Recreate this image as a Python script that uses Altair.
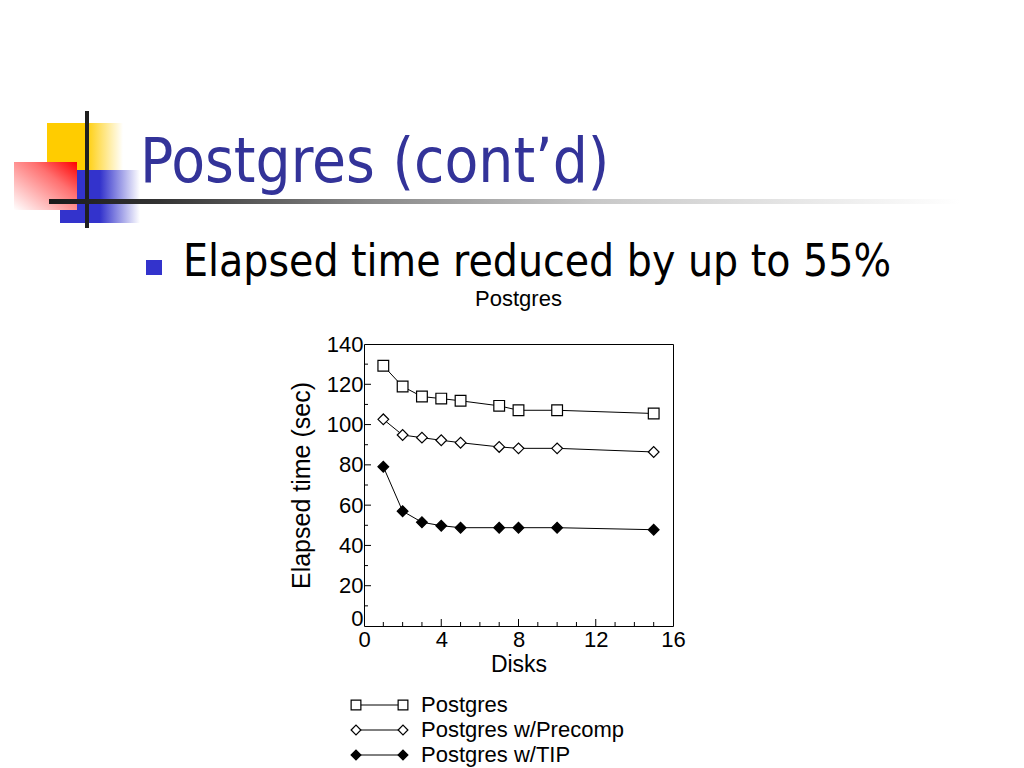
import altair as alt
import pandas as pd

# ---------------- data ----------------
disks = [1, 2, 3, 4, 5, 7, 8, 10, 15]
postgres = [129.2, 118.9, 113.9, 112.9, 111.8, 109.3, 107.1, 107.1, 105.5]
precomp = [102.6, 94.8, 93.5, 92.2, 91.0, 88.9, 88.2, 88.2, 86.4]
tip = [79.1, 57.0, 51.5, 49.8, 48.8, 48.8, 48.8, 48.8, 47.8]

series_names = ["Postgres", "Postgres w/Precomp", "Postgres w/TIP"]
series_shapes = ["square", "diamond", "diamond"]
series_fills = ["white", "white", "black"]

x_tick_labels = [0, 4, 8, 12, 16]
y_tick_labels = [0, 20, 40, 60, 80, 100, 120, 140]
x_minor_ticks = [1, 2, 3, 5, 6, 7, 9, 10, 11, 13, 14, 15]
x_major_ticks = [4, 8, 12]
y_minor_ticks = [10, 30, 50, 70, 90, 110, 130]
y_major_ticks = [20, 40, 60, 80, 100, 120]

slide_title = "Postgres (cont\u2019d)"
bullet_text = "Elapsed time reduced by up to 55%"
chart_title = "Postgres"
x_title = "Disks"
y_title = "Elapsed time (sec)"

# ---------------- tables ----------------
rows = []
for name, vals in zip(series_names, [postgres, precomp, tip]):
    for d, v in zip(disks, vals):
        rows.append({"disks": d, "time": v, "series": name})
df = pd.DataFrame(rows)
legend_df = pd.DataFrame({"series": series_names})

W, H = 309, 282
CHART_FONT = "Liberation Sans, Arial, sans-serif"
SLIDE_FONT = "DejaVu Sans Condensed, DejaVu Sans, sans-serif"

xs = alt.Scale(domain=[0, 16], nice=False, zero=False)
ys = alt.Scale(domain=[0, 140], nice=False, zero=False)

x_axis = alt.Axis(values=x_tick_labels, title=x_title, grid=False, domain=False, ticks=False,
                  labelFontSize=22, labelFont=CHART_FONT, labelColor="black", labelPadding=3,
                  titleFontSize=23, titleFont=CHART_FONT, titleFontWeight="normal",
                  titleColor="black", titlePadding=3, labelFlush=False)
y_axis = alt.Axis(values=y_tick_labels, title=y_title, grid=False, domain=False, ticks=False,
                  labelFontSize=22, labelFont=CHART_FONT, labelColor="black", labelPadding=1,
                  labelBaseline={"condition": {"test": "datum.value === 0", "value": "bottom"},
                                 "value": "middle"},
                  labelOffset={"condition": {"test": "datum.value === 0", "value": 4}, "value": 0},
                  titleFontSize=25, titleFont=CHART_FONT, titleFontWeight="normal",
                  titleColor="black", titlePadding=12, labelFlush=False)

x_enc = alt.X("disks:Q", scale=xs, axis=x_axis)
y_enc = alt.Y("time:Q", scale=ys, axis=y_axis)

shape_enc = alt.Shape("series:N", scale=alt.Scale(domain=series_names, range=series_shapes), legend=None)
fill_enc = alt.Fill("series:N", scale=alt.Scale(domain=series_names, range=series_fills), legend=None)

lines = alt.Chart(df).mark_line(color="black", strokeWidth=1).encode(
    x=x_enc, y=y_enc, detail="series:N")
points = alt.Chart(df).mark_point(filled=True, stroke="black", strokeWidth=1.2, opacity=1, size=115).encode(
    x=x_enc, y=y_enc, shape=shape_enc, fill=fill_enc)

def xticks(vals, length):
    return alt.Chart(pd.DataFrame({"disks": vals})).mark_rule(color="black", strokeWidth=1).encode(
        x=x_enc, y=alt.value(H), y2=alt.value(H - length))

def yticks(vals, length):
    return alt.Chart(pd.DataFrame({"time": vals})).mark_rule(color="black", strokeWidth=1).encode(
        y=y_enc, x=alt.value(0), x2=alt.value(length))

main = alt.layer(xticks(x_minor_ticks, 4), xticks(x_major_ticks, 7),
                 yticks(y_minor_ticks, 4), yticks(y_major_ticks, 7),
                 lines, points)

# ---------------- legend ----------------
leg_y = alt.Y("series:N", scale=alt.Scale(type="point", domain=series_names, range=[361, 411], padding=0),
              axis=None)
leg_line = alt.Chart(legend_df).mark_rule(color="black", strokeWidth=1).encode(
    x=alt.value(-8), x2=alt.value(39), y=leg_y)
leg_p1 = alt.Chart(legend_df).mark_point(filled=True, stroke="black", strokeWidth=1.2, opacity=1, size=95).encode(
    x=alt.value(-8), y=leg_y, shape=shape_enc, fill=fill_enc)
leg_p2 = alt.Chart(legend_df).mark_point(filled=True, stroke="black", strokeWidth=1.2, opacity=1, size=95).encode(
    x=alt.value(39), y=leg_y, shape=shape_enc, fill=fill_enc)
leg_text = alt.Chart(legend_df).mark_text(align="left", baseline="middle", fontSize=22, font=CHART_FONT,
                                          color="black").encode(x=alt.value(57), y=leg_y, text="series:N")
legend = alt.layer(leg_line, leg_p1, leg_p2, leg_text)

# ---------------- slide decoration ----------------
one = alt.Data(values=[{"k": 0}])

def grad(stops, x1=0, y1=0, x2=1, y2=0):
    return alt.LinearGradient(gradient="linear", x1=x1, y1=y1, x2=x2, y2=y2,
                              stops=[alt.GradientStop(color=c, offset=o) for o, c in stops])

def box(x, x2, y, y2, fill):
    return alt.Chart(one).mark_rect(fill=fill, strokeWidth=0).encode(
        x=alt.value(x), x2=alt.value(x2), y=alt.value(y), y2=alt.value(y2))

yellow = box(-317, -241, -221, -174, grad([(0, "#FFCC00"), (0.5, "#FFCC00"), (1, "#FFFFFF")]))
blue = box(-304, -224, -174, -121, grad([(0, "#3333CC"), (0.5, "#3333CC"), (1, "#FFFFFF")]))
red = box(-350, -287, -182, -134, grad([(0, "#FF0000"), (0.35, "#FF7070"), (1, "#FFFFFF")], x1=1, y1=0, x2=0, y2=1))
vline = box(-279, -275, -233, -116, "#1F1F1F")
hline = box(-315, 596, -145, -140, grad([(0, "#1A1A1A"), (0.12, "#333333"), (0.35, "#888888"),
                                         (0.6, "#C8C8C8"), (1, "#FFFFFF")]))
bullet = box(-218, -202, -84, -69, "#3333CC")

title_txt = alt.Chart(one).mark_text(text=slide_title, align="left", baseline="alphabetic", fontSize=61.5,
                                     font=SLIDE_FONT, color="#333399").encode(
    x=alt.value(-224), y=alt.value(-162))
bullet_txt = alt.Chart(one).mark_text(text=bullet_text, align="left", baseline="alphabetic", fontSize=44,
                                      font=SLIDE_FONT, color="black").encode(
    x=alt.value(-181), y=alt.value(-68))
ctitle_txt = alt.Chart(one).mark_text(text=chart_title, align="center", baseline="alphabetic", fontSize=22,
                                      font=CHART_FONT, color="black").encode(
    x=alt.value(W / 2), y=alt.value(-38))

chart = alt.layer(
    yellow, blue, red, vline, hline, bullet, title_txt, bullet_txt, ctitle_txt, main, legend
).resolve_scale(y="independent").properties(
    width=W, height=H,
    padding={"left": 356, "top": 336, "right": 343, "bottom": 142},
    autosize=alt.AutoSizeParams(type="none"),
    background="white",
).configure_view(stroke="black", strokeWidth=1)

chart.save("out.html", embed_options={"renderer": "svg", "actions": False})
